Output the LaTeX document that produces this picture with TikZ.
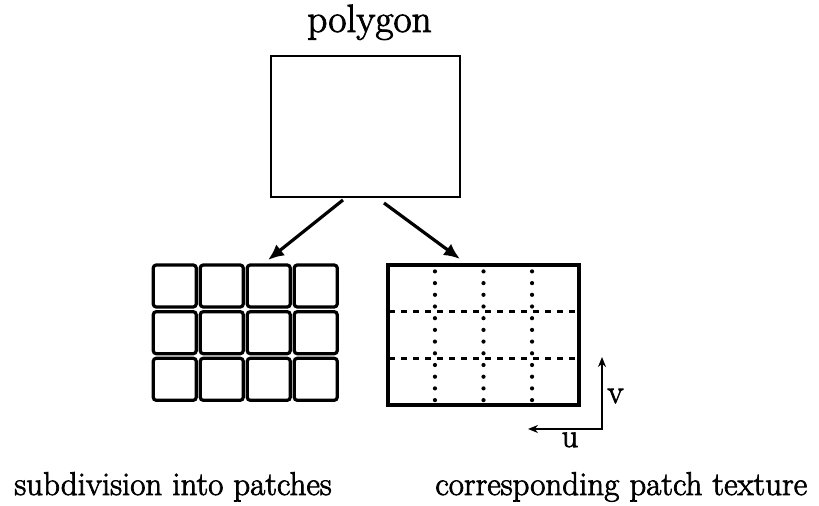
\documentclass[tikz,border=0pt]{standalone}
\usepackage{fontspec}
\setmainfont{Latin Modern Roman}[FakeBold=2.2,BoldFont=Latin Modern Roman]
\usetikzlibrary{arrows.meta,calc}
\begin{document}
\begin{tikzpicture}[x=0.5pt,y=-0.5pt,
 polybox/.style={draw, line width=1.3pt, inner sep=0pt, minimum width=94.5pt, minimum height=70.5pt},
 cell/.style={draw, line width=1.6pt, rounded corners=1.5pt, inner sep=0pt, minimum width=21.5pt, minimum height=21pt},
 texbox/.style={draw, line width=1.6pt, inner sep=0pt, minimum width=95.5pt, minimum height=70pt},
 flow/.style={line width=1.6pt, -{Latex[length=8pt,width=7pt]}},
 axis/.style={line width=1.3pt, {Stealth[length=5pt,width=4pt]}-{Stealth[length=5pt,width=4pt]}},
 dotline/.style={line width=2.1pt, dash pattern=on 0pt off 5.85pt, dash phase=-4pt, line cap=round},
 dashline/.style={line width=1.4pt, dash pattern=on 3pt off 3pt, dash phase=-1.5pt},
 lab/.style={font=\fontsize{16.5}{20}\selectfont\bfseries, inner sep=0pt},
 title/.style={font=\fontsize{19.7}{24}\selectfont\bfseries, inner sep=0pt},
]
\useasboundingbox (0,0) rectangle (819,506);

% title and polygon
\node[title, anchor=base] (ptitle) at (369.5,32) {polygon};
\node[polybox] (poly) at (365.5,126.5) {};

% left grid of patches
\foreach \r/\y in {1/286,2/332.7,3/379.3}{
  \foreach \c/\x in {1/174.75,2/221.75,3/268.75,4/315.75}{
    \node[cell] (c\r\c) at (\x,\y) {};
  }
}

% right texture box
\node[texbox] (tex) at (483.5,335) {};
\foreach \f in {0.25,0.5,0.75}{
  \draw[dotline] ($(tex.north west)!\f!(tex.north east)$) -- ($(tex.south west)!\f!(tex.south east)$);
}
\foreach \f in {0.3333,0.6667}{
  \draw[dashline] ($(tex.north west)!\f!(tex.south west)$) -- ($(tex.north east)!\f!(tex.south east)$);
}

% arrows from polygon
\coordinate (la) at (343,200);
\coordinate (le) at (268,260);
\coordinate (ra) at (384,203);
\coordinate (re) at (460,259);
\draw[flow] (la) -- (le);
\draw[flow] (ra) -- (re);

% u v axes
\coordinate (uvo) at (602,429);
\coordinate (uend) at (528,429);
\coordinate (vend) at (602,357);
\draw[axis] (uend) -- (uvo) -- (vend);
\node[lab, anchor=base] (ulab) at (570,447) {u};
\node[lab, anchor=base] (vlab) at (615.5,403) {v};

% captions
\node[lab, anchor=base west] (capl) at (14,495) {subdivision into patches};
\node[lab, anchor=base west] (capr) at (435,495) {corresponding patch texture};
\end{tikzpicture}
\end{document}
